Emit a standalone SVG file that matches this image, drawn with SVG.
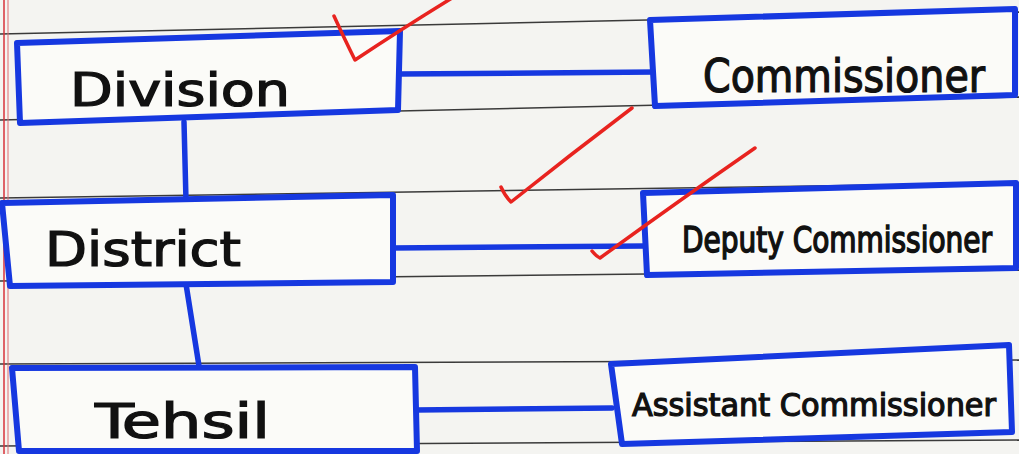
<svg xmlns="http://www.w3.org/2000/svg" width="1019" height="454" viewBox="0 0 1019 454">
<style>
.rule{stroke:#3a3a3a;stroke-width:1.6;fill:none}
.box{fill:#fbfbf8;stroke:#1638e0;stroke-width:6;stroke-linejoin:round}
.conn{stroke:#1638e0;stroke-width:5.5;fill:none;stroke-linecap:round}
.tick{stroke:#e8231f;stroke-width:3.5;fill:none;stroke-linecap:round;stroke-linejoin:round}
.lbl{font-family:"DejaVu Sans Condensed","DejaVu Sans",sans-serif;fill:#111;stroke:#111;stroke-width:1.2}
</style>
<rect width="1019" height="454" fill="#f4f4f1"/>
<g id="paper">
<line class="rule" x1="0" y1="34" x2="1019" y2="12"/>
<line class="rule" x1="0" y1="120" x2="1019" y2="97"/>
<line class="rule" x1="0" y1="198" x2="1019" y2="183"/>
<line class="rule" x1="0" y1="281" x2="1019" y2="270"/>
<line class="rule" x1="0" y1="364" x2="1019" y2="360"/>
<line class="rule" x1="0" y1="446" x2="1019" y2="440"/>
<line x1="4" y1="0" x2="4" y2="454" stroke="#d8323a" stroke-width="1.5"/>
<line x1="8" y1="0" x2="8" y2="454" stroke="#e06a70" stroke-width="1"/>
</g>
<g id="connectors">
<path class="conn" d="M400,74 L655,72"/>
<path class="conn" d="M184,122 L186,201"/>
<path class="conn" d="M392,248 L645,246"/>
<path class="conn" d="M186,284 L199,366"/>
<path class="conn" d="M416,410 L612,408"/>
</g>
<g id="division">
<path class="box" d="M17,43 L400,31 L398,110 L20,123 Z"/>
<text class="lbl" x="70" y="106" font-size="46" textLength="220" lengthAdjust="spacingAndGlyphs">Division</text>
</g>
<g id="commissioner">
<path class="box" d="M650,20 L1015,9 L1015,95 L655,106 Z"/>
<text class="lbl" x="703" y="92" font-size="46" textLength="282" lengthAdjust="spacingAndGlyphs">Commissioner</text>
</g>
<g id="district">
<path class="box" d="M2,203 L393,195 L393,282 L10,286 Z"/>
<text class="lbl" x="45" y="266" font-size="48" textLength="196" lengthAdjust="spacingAndGlyphs">District</text>
</g>
<g id="deputy">
<path class="box" d="M643,193 L1016,183 L1016,268 L647,275 Z"/>
<text class="lbl" transform="translate(682,252) scale(1,1.2)" x="0" y="0" font-size="30" textLength="310" lengthAdjust="spacingAndGlyphs">Deputy Commissioner</text>
</g>
<g id="tehsil">
<path class="box" d="M12,368 L415,367 L417,451 L19,451 Z"/>
<text class="lbl" x="95" y="438" font-size="48" textLength="175" lengthAdjust="spacingAndGlyphs">Tehsil</text>
</g>
<g id="assistant">
<path class="box" d="M611,364 L1009,345 L1012,432 L622,444 Z"/>
<text class="lbl" x="632" y="416" font-size="32" textLength="364" lengthAdjust="spacingAndGlyphs">Assistant Commissioner</text>
</g>
<g id="marks">
<path class="tick" d="M334,16 Q345,40 355,60 Q400,30 452,-2"/>
<path class="tick" d="M501,187 Q505,196 511,202 Q570,155 632,108"/>
<path class="tick" d="M592,251 Q596,256 600,258 Q680,200 755,148"/>
</g>
</svg>
